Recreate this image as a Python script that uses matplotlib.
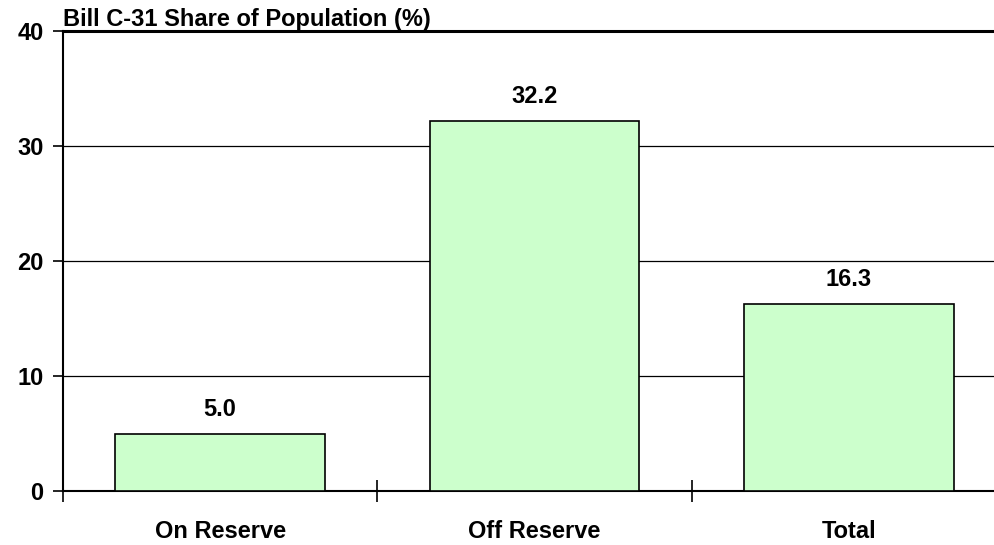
import matplotlib.pyplot as plt
import numpy as np

plt.rcParams['font.family'] = ['Liberation Sans', 'DejaVu Sans']

# data
categories = ['On Reserve', 'Off Reserve', 'Total']
share = [5.0, 32.2, 16.3]
yticks = [0, 10, 20, 30, 40]

fig = plt.figure(figsize=(9.94, 5.45), dpi=100)
ax = fig.add_axes([63 / 994, 54 / 545, 943 / 994, 460 / 545])

x = np.arange(len(categories)) + 0.5
bars = ax.bar(x, share, width=0.667, color='#ccffcc', edgecolor='black', linewidth=1.2, zorder=3)

for b, v in zip(bars, share):
    ax.annotate(f'{v:.1f}', (b.get_x() + b.get_width() / 2, v), xytext=(0, 9),
                textcoords='offset points', ha='center', va='bottom',
                fontsize=17, fontweight='bold')

ax.set_xlim(0, 3)
ax.set_ylim(0, 40)
ax.set_yticks(yticks)
ax.set_yticklabels([str(t) for t in yticks], fontsize=17, fontweight='bold')
ax.tick_params(axis='y', direction='out', length=7, width=1.2, pad=7)

# boundaries as major ticks, category names on minor ticks
ax.set_xticks([0, 1, 2, 3])
ax.set_xticklabels([])
ax.tick_params(axis='x', which='major', direction='inout', length=16, width=1.2)
ax.set_xticks(x, minor=True)
ax.set_xticklabels(categories, minor=True, fontsize=17, fontweight='bold')
ax.tick_params(axis='x', which='minor', length=0, pad=21)

for t in [10, 20, 30]:
    ax.axhline(t, color='black', linewidth=0.9, zorder=1)

ax.spines['top'].set_linewidth(2.2)
ax.spines['left'].set_linewidth(1.5)
ax.spines['bottom'].set_linewidth(1.5)
ax.spines['right'].set_visible(False)

ax.set_title('Bill C-31 Share of Population (%)', loc='left', fontsize=17,
             fontweight='bold', pad=2)

fig.savefig('out.png', dpi=100)
